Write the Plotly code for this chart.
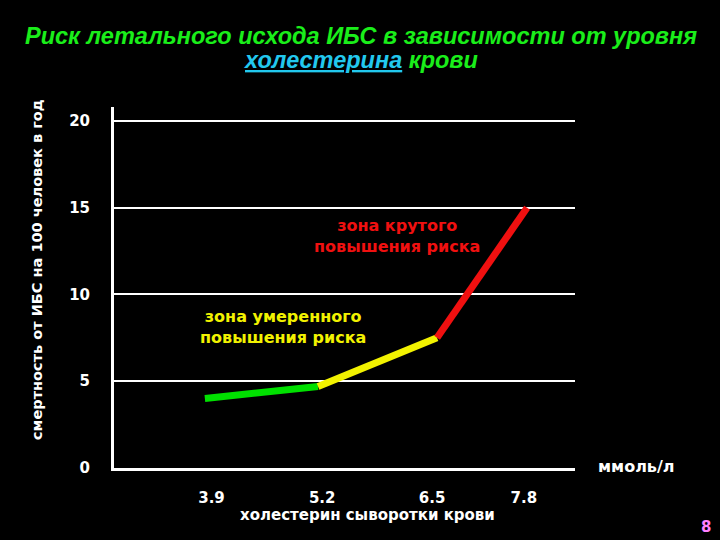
import plotly.graph_objects as go

# Data (cholesterol positions, ммоль/л)
cholesterol = [3.9, 5.27, 6.71, 7.8]
mortality = [4.0, 4.7, 7.5, 15.0]           # deaths per 100 people per year
segment_colors = ["#00e000", "#f2f200", "#f01010"]
x_tick_labels = ["3.9", "5.2", "6.5", "7.8"]
x_tick_positions = [3.98, 5.32, 6.65, 7.76]  # where the labels sit in the picture
y_ticks = [0, 5, 10, 15, 20]

title_line1 = "Риск летального исхода ИБС в зависимости от уровня"
title_word_link = "холестерина"
title_word_end = " крови"
y_title = "смертность от ИБС на 100 человек в год"
x_title = "холестерин сыворотки крови"
unit_label = "ммоль/л"
zone_moderate = "зона умеренного<br>повышения риска"
zone_steep = "зона крутого<br>повышения риска"
slide_number = "8"

FONT = "DejaVu Sans"
L, R, T, B = 114, 145, 107, 72
W, H = 720, 540

fig = go.Figure()
for i, col in enumerate(segment_colors):
    fig.add_trace(go.Scatter(
        x=cholesterol[i:i + 2], y=mortality[i:i + 2], mode="lines",
        line=dict(color=col, width=7), showlegend=False, hoverinfo="skip"))

fig.update_layout(
    width=W, height=H,
    paper_bgcolor="black", plot_bgcolor="black",
    margin=dict(l=L, r=R, t=T, b=B),
    font=dict(family=FONT, color="white"),
    xaxis=dict(
        range=[2.80, 8.38], showgrid=False, zeroline=False,
        showline=True, linecolor="white", linewidth=3,
        tickvals=x_tick_positions, ticktext=[f"<b>{t}</b>" for t in x_tick_labels],
        tickfont=dict(family=FONT, size=15, color="white"),
        ticks="", ticklabelstandoff=14),
    yaxis=dict(
        range=[0, 20.8], showgrid=True, gridcolor="white", gridwidth=1.5,
        zeroline=False, showline=True, linecolor="white", linewidth=3,
        tickvals=y_ticks, ticktext=[f"<b>{v}</b>" for v in y_ticks],
        tickfont=dict(family=FONT, size=15, color="white"),
        ticks="", ticklabelstandoff=18),
)


def px_ann(text, x, y, font, angle=0):
    fig.add_annotation(
        text=text, xref="paper", yref="paper",
        x=(x - L) / (W - L - R), y=(H - B - y) / (H - T - B),
        xanchor="center", yanchor="middle", showarrow=False,
        textangle=angle, font=font)


title_font = dict(family="Liberation Sans", size=23.5, color="#1aee1a")
px_ann(f"<b><i>{title_line1}</i></b>", 361, 36, title_font)
px_ann(f"<b><i><span style='color:#22c8ee'><u>{title_word_link}</u></span>{title_word_end}</i></b>",
       360, 60, title_font)
px_ann(f"<b>{y_title}</b>", 37, 270, dict(family=FONT, size=14.5, color="white"), angle=-90)
px_ann(f"<b>{x_title}</b>", 367, 515, dict(family=FONT, size=15, color="white"))
px_ann(f"<b>{unit_label}</b>", 636, 466, dict(family=FONT, size=16, color="white"))
px_ann(f"<b>{slide_number}</b>", 706, 527, dict(family=FONT, size=15, color="#ff80ff"))

fig.add_annotation(text=f"<b>{zone_steep}</b>", x=6.22, y=13.37, xref="x", yref="y",
                   showarrow=False, font=dict(family=FONT, size=16, color="#f01010"))
fig.add_annotation(text=f"<b>{zone_moderate}</b>", x=4.84, y=8.13, xref="x", yref="y",
                   showarrow=False, font=dict(family=FONT, size=16, color="#f2f200"))

fig.write_html(
    "out.html",
    config={"displayModeBar": False},
    post_script="document.body.style.margin='0';document.body.style.overflow='hidden';")
